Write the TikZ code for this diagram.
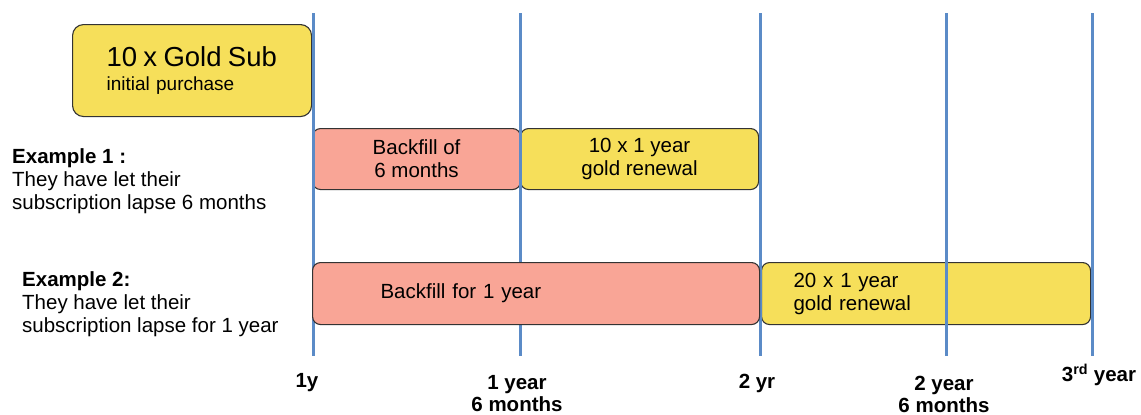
\documentclass[tikz,border=0pt]{standalone}
\usepackage{fontspec}
\setmainfont{Liberation Sans}
\usetikzlibrary{positioning}
\definecolor{goldc}{HTML}{F6DF5A}
\definecolor{bfc}{HTML}{F9A596}
\definecolor{linec}{HTML}{5B8BC7}
\definecolor{edgec}{HTML}{333333}

\begin{document}
\begin{tikzpicture}[x=1pt, y=-1pt, font=\fontsize{20.5}{23}\selectfont,
      blk/.style={rounded corners=8pt, draw=edgec, line width=1.1pt, inner sep=0pt,
                  anchor=north west, align=center},
      gold/.style={blk, fill=goldc},
      bfill/.style={blk, fill=bfc},
      tick/.style={line width=3pt, draw=linec},
      lbl/.style={font=\fontsize{20.5}{22}\selectfont\bfseries, align=center, inner sep=0pt},
      note/.style={anchor=west, align=left, inner sep=0pt}]
    \useasboundingbox (0,0) rectangle (1141,415);
    % boxes
    \node[gold, rounded corners=11pt, minimum width=239, minimum height=92, text width=171,
          inner xsep=34, align=left, font=\fontsize{19}{24}\selectfont] (sub) at (72,24)
          {{\fontsize{27.5}{24}\selectfont 10 x Gold Sub}\\initial purchase};
    \node[bfill, minimum width=208, minimum height=61] (bf6) at (312,128) {Backfill of\\6 months};
    \node[gold, minimum width=238, minimum height=61] (r10) at (520,128) {10 x 1 year\\gold renewal};
    \node[gold, minimum width=329, minimum height=62, text width=265, inner xsep=32,
          align=left] (r20) at (761,262) {20 x 1 year\\gold renewal};
    % time lines
    \foreach \x in {313,520,760,946,1092}{
      \draw[tick] (\x,13) -- (\x,356);}
    \node[bfill, minimum width=447, minimum height=62, text width=311, inner xsep=68,
          align=left] (bf12) at (312,262) {Backfill for 1 year};
    % examples
    \node[note] (ex1) at (12,181) {\textbf{Example 1 :}\\They have let their\\subscription lapse 6 months};
    \node[note] (ex2) at (22,304) {\textbf{Example 2:}\\They have let their\\subscription lapse for 1 year};
    % axis labels
    \node[lbl] (t1) at (307,383) {1y};
    \node[lbl] (t2) at (517,394) {1 year\\6 months};
    \node[lbl] (t3) at (757,383) {2 yr};
    \node[lbl] (t4) at (944,394) {2 year\\6 months};
    \node[lbl] (t5) at (1099,375) {3\textsuperscript{rd} year};
\end{tikzpicture}
\end{document}
